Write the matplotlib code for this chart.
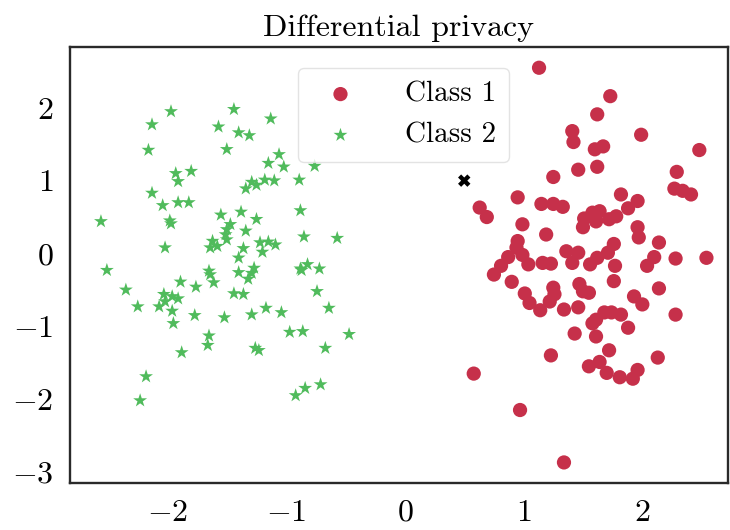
import matplotlib
matplotlib.use("Agg")
import matplotlib.pyplot as plt

plt.rcParams['font.family'] = 'serif'
plt.rcParams['font.serif'] = ['cmr10', 'DejaVu Serif']
plt.rcParams['mathtext.fontset'] = 'cm'
plt.rcParams['axes.formatter.use_mathtext'] = True
plt.rcParams['axes.unicode_minus'] = True

title = "Differential privacy"
labels = ["Class 1", "Class 2"]

class2_x = [-1.97, -2.13, -1.57, -2.16, -1.50, -1.93, -1.80, -1.91, -2.13, -2.04,
            -1.91, -1.82, -2.56, -1.98, -1.97, -1.55, -2.02, -1.62, -1.64, -1.58,
            -1.44, -1.13, -1.40, -1.31, -1.06, -1.15, -1.02, -0.76, -0.89, -1.29,
            -1.18, -1.10, -1.25, -1.34, -0.88, -1.38, -1.25, -1.47, -1.50, -1.51,
            -1.50, -1.34, -0.85, -0.57, -1.22, -1.15, -1.09, -1.36, -1.20,
            -2.51, -1.65, -1.64, -1.61, -1.89, -1.76, -2.35, -2.03, -1.96, -1.91,
            -2.02, -2.25, -2.07, -1.96, -1.77, -1.52, -1.95, -1.65, -1.66, -1.88,
            -2.18, -2.23,
            -1.40, -1.27, -1.29, -1.40, -1.32, -0.88, -0.82, -0.87, -0.72, -1.44,
            -1.36, -0.74, -0.64, -1.29, -1.17, -1.04, -0.97, -0.86, -0.47, -1.26,
            -1.23, -0.67, -0.71, -0.84, -0.92]
class2_y = [1.95, 1.77, 1.74, 1.42, 1.43, 1.10, 1.13, 0.99, 0.83, 0.66,
            0.70, 0.70, 0.44, 0.45, 0.41, 0.53, 0.08, 0.17, 0.08, 0.10,
            1.98, 1.85, 1.66, 1.62, 1.36, 1.24, 1.19, 1.20, 1.01, 0.98,
            1.01, 1.00, 0.94, 0.89, 0.59, 0.57, 0.47, 0.40, 0.33, 0.26,
            0.19, 0.31, 0.23, 0.21, 0.15, 0.16, 0.12, 0.07, 0.02,
            -0.23, -0.24, -0.29, -0.40, -0.39, -0.46, -0.50, -0.56, -0.59, -0.62,
            -0.66, -0.73, -0.73, -0.79, -0.85, -0.88, -0.96, -1.13, -1.26, -1.36,
            -1.69, -2.02,
            -0.06, -0.20, -0.27, -0.26, -0.35, -0.21, -0.15, -0.23, -0.21, -0.55,
            -0.56, -0.52, -0.75, -0.84, -0.75, -0.81, -1.08, -1.07, -1.11, -1.30,
            -1.33, -1.30, -1.80, -1.85, -1.95]

class1_x = [1.13, 1.41, 1.42, 1.25, 1.46, 0.95, 1.15, 1.25, 1.73, 1.62,
            1.99, 1.60, 1.67, 1.62, 2.48, 2.29, 2.27, 2.34, 2.41, 1.82,
            1.96, 0.63, 0.69, 1.33, 1.51, 1.50, 1.58, 1.64, 1.61, 0.99,
            1.19, 0.95, 0.94, 0.87, 0.99, 1.04, 1.36, 1.46, 1.41, 1.16,
            1.23, 0.81, 0.75, 1.56, 0.90, 1.47, 1.50, 1.25, 1.26, 1.22,
            1.01, 1.05, 1.14, 1.34, 1.46, 1.58, 1.61, 1.43,
            1.88, 1.72, 1.78, 1.96, 1.97, 2.14, 1.76, 1.71, 1.62, 2.10,
            2.04, 2.28, 2.54, 1.77, 1.76, 2.14, 1.55, 1.93, 2.00, 1.68,
            1.74, 1.82, 1.88, 2.28,
            1.61, 1.23, 1.55, 0.58, 0.97, 1.34, 1.72, 1.64, 2.13, 1.70,
            1.81, 1.96, 1.92]
class1_y = [2.55, 1.68, 1.53, 1.05, 1.15, 0.77, 0.68, 0.68, 2.16, 1.91,
            1.63, 1.43, 1.47, 1.19, 1.42, 1.12, 0.89, 0.86, 0.81, 0.81,
            0.72, 0.63, 0.50, 0.64, 0.48, 0.36, 0.56, 0.58, 0.44, 0.40,
            0.26, 0.17, 0.08, -0.05, -0.02, -0.15, 0.03, 0.01, -0.13, -0.13,
            -0.14, -0.17, -0.29, -0.15, -0.39, -0.42, -0.52, -0.47, -0.56, -0.66,
            -0.55, -0.68, -0.78, -0.77, -0.74, -0.96, -0.91, -1.10,
            0.62, 0.47, 0.51, 0.36, 0.22, 0.15, 0.13, 0.01, -0.06, -0.05,
            -0.17, -0.07, -0.06, -0.17, -0.38, -0.48, -0.54, -0.59, -0.70, -0.81,
            -0.81, -0.84, -1.02, -0.84,
            -1.14, -1.40, -1.55, -1.65, -2.15, -2.87, -1.33, -1.49, -1.43, -1.64,
            -1.70, -1.60, -1.72]

query_x = [0.50]
query_y = [1.00]

red = '#c6304a'
green = '#50bb5c'

fig = plt.figure(figsize=(7.3, 5.3), dpi=100)
ax = fig.add_axes([0.096, 0.089, 0.901, 0.823])

ax.scatter(class1_x, class1_y, s=105, c=red, marker='o', edgecolors='none', label=labels[0], zorder=2)
ax.scatter(class2_x, class2_y, s=110, c=green, marker='*', edgecolors='none', label=labels[1], zorder=2)
ax.scatter(query_x, query_y, s=80, c='black', marker='X', edgecolors='none', zorder=3)

ax.set_xlim(-2.82, 2.72)
ax.set_ylim(-3.15, 2.84)
ax.set_xticks([-2, -1, 0, 1, 2])
ax.set_yticks([-3, -2, -1, 0, 1, 2])
ax.tick_params(length=0, labelsize=23, pad=12)

for sp in ax.spines.values():
    sp.set_color('#2a2a2a')
    sp.set_linewidth(1.7)

ax.set_title(title, fontsize=23, pad=8)
leg = ax.legend(loc='upper center', fontsize=21, scatterpoints=1, frameon=True,
                borderpad=0.45, handletextpad=1.2, labelspacing=0.5,
                bbox_to_anchor=(0.507, 0.984))
leg.get_frame().set_edgecolor('#dddddd')

fig.savefig('out.png', dpi=100)
